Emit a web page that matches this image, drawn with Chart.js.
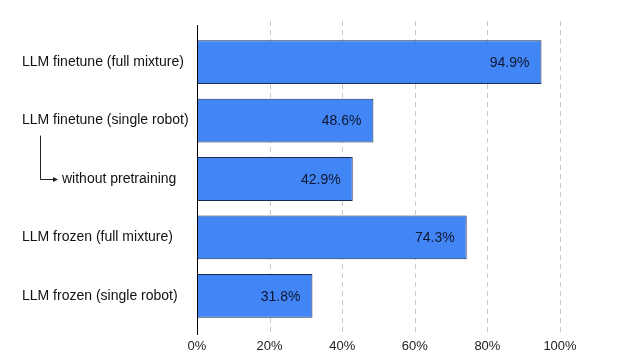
<!DOCTYPE html>
<html><head><meta charset="utf-8">
<script src="https://cdn.jsdelivr.net/npm/chart.js@4/dist/chart.umd.min.js"></script>
<style>html,body{margin:0;padding:0;background:#fff}#wrap{width:641px;height:356px}</style>
</head><body><div id="wrap"><canvas id="c"></canvas></div>
<script>
const categories = [
  "LLM finetune (full mixture)",
  "LLM finetune (single robot)",
  "without pretraining",
  "LLM frozen (full mixture)",
  "LLM frozen (single robot)"
];
const indentedCategory = 2; // sub-variant of the row above
const successRates = [94.9, 48.6, 42.9, 74.3, 31.8];
const xTickValues = [0, 20, 40, 60, 80, 100];

const FAMILY = "'Liberation Sans', Arial, sans-serif";
const LABEL_FONT = { family: FAMILY, size: 14 };
const TICK_FONT = { family: FAMILY, size: 13 };

const decor = {
  id: 'decor',
  beforeDatasetsDraw(chart) {
    const { ctx, chartArea, scales } = chart;
    ctx.save();
    ctx.strokeStyle = '#c8c8c8';
    ctx.lineWidth = 1;
    ctx.setLineDash([5, 4]);
    xTickValues.forEach(v => {
      if (v === 0) return;
      const x = Math.round(scales.x.getPixelForValue(v)) + 0.5;
      ctx.beginPath();
      ctx.moveTo(x, chartArea.top - 12);
      ctx.lineTo(x, chartArea.bottom + 10);
      ctx.stroke();
    });
    ctx.restore();
  },
  afterDatasetsDraw(chart) {
    const { ctx, chartArea, scales } = chart;
    const meta = chart.getDatasetMeta(0);
    ctx.save();
    // value labels
    ctx.font = `${LABEL_FONT.size}px ${FAMILY}`;
    ctx.fillStyle = '#0f1730';
    ctx.textAlign = 'right';
    ctx.textBaseline = 'middle';
    meta.data.forEach((bar, i) => {
      ctx.fillText(successRates[i].toFixed(1) + '%', bar.x - 12, bar.y + 1);
    });
    // category labels (left aligned, one indented)
    ctx.fillStyle = '#111';
    ctx.textAlign = 'left';
    categories.forEach((c, i) => {
      const y = scales.y.getPixelForValue(i);
      ctx.fillText(c, i === indentedCategory ? 62 : 22, y);
    });
    // axis line
    const x0 = Math.round(scales.x.getPixelForValue(0)) + 0.5;
    ctx.strokeStyle = '#000';
    ctx.lineWidth = 1;
    ctx.beginPath();
    ctx.moveTo(x0, chartArea.top - 8);
    ctx.lineTo(x0, chartArea.bottom + 10);
    ctx.stroke();
    // arrow from "single robot" to "without pretraining"
    const yA = scales.y.getPixelForValue(indentedCategory - 1) + 15;
    const yB = Math.round(scales.y.getPixelForValue(indentedCategory)) + 0.5;
    const ax = 40.5, ex = 56;
    ctx.strokeStyle = '#222';
    ctx.beginPath();
    ctx.moveTo(ax, yA);
    ctx.lineTo(ax, yB);
    ctx.lineTo(ex, yB);
    ctx.stroke();
    ctx.fillStyle = '#222';
    ctx.beginPath();
    ctx.moveTo(ex + 2, yB);
    ctx.lineTo(ex - 3, yB - 2.5);
    ctx.lineTo(ex - 3, yB + 2.5);
    ctx.closePath();
    ctx.fill();
    ctx.restore();
  }
};

new Chart(document.getElementById('c'), {
  type: 'bar',
  data: {
    labels: categories,
    datasets: [{
      data: successRates,
      backgroundColor: '#4285f4',
      borderColor: '#1b2a52',
      borderWidth: 1,
      borderSkipped: false,
      categoryPercentage: 1,
      barPercentage: 0.75
    }]
  },
  options: {
    indexAxis: 'y',
    responsive: true,
    maintainAspectRatio: false,
    animation: false,
    devicePixelRatio: 1,
    layout: { padding: { top: 33, right: 81, bottom: 0, left: 0 } },
    plugins: { legend: { display: false }, tooltip: { enabled: false } },
    scales: {
      x: {
        min: 0, max: 100,
        afterBuildTicks: s => { s.ticks = xTickValues.map(v => ({ value: v })); },
        afterFit: s => { s.height = 31; },
        ticks: { callback: v => v + '%', font: TICK_FONT, color: '#222', padding: 14, maxRotation: 0 },
        grid: { display: false, drawTicks: false },
        border: { display: false }
      },
      y: {
        afterFit: s => { s.width = 197; },
        ticks: { display: false },
        grid: { display: false, drawTicks: false },
        border: { display: false }
      }
    }
  },
  plugins: [decor]
});
</script>
</body></html>
